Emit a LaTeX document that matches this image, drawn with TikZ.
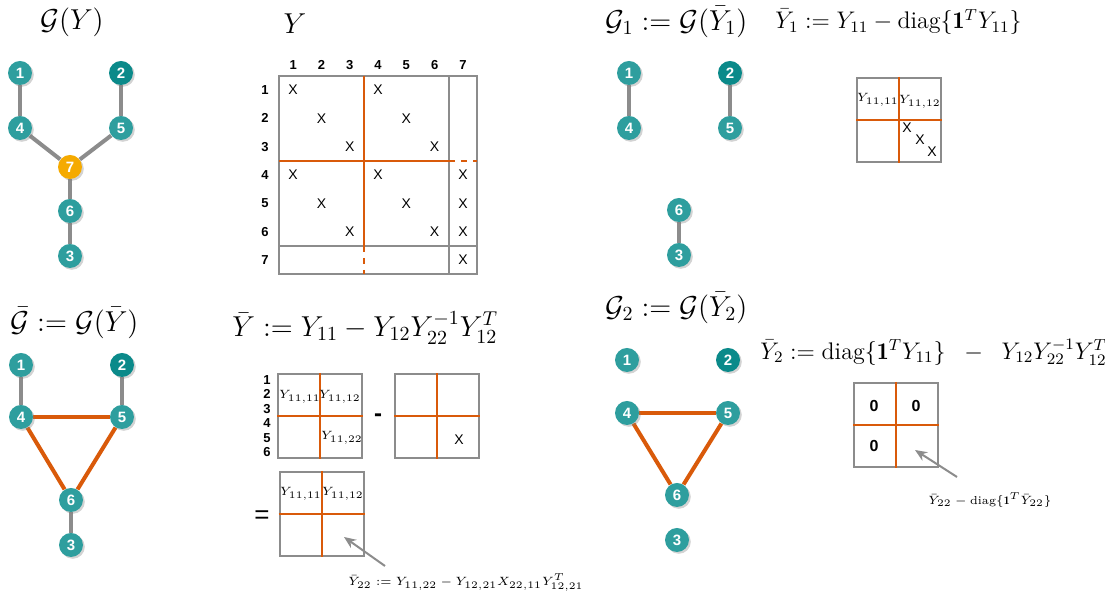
\documentclass[tikz,border=0pt]{standalone}
\usepackage{amsmath,amssymb}
\usepackage{fontspec}
\setsansfont{Liberation Sans}
\usepackage{tikz}
\usetikzlibrary{arrows.meta, shadows, backgrounds}
\definecolor{ballteal}{HTML}{2E9E9E}
\definecolor{balldark}{HTML}{0B8A8A}
\definecolor{ballgold}{HTML}{F5AA00}
\definecolor{cutorange}{HTML}{D95A0A}
\definecolor{gridgray}{HTML}{8C8C8C}
\newcommand{\Gcal}{\mathcal{G}}

\begin{document}
\begin{tikzpicture}[
  x=0.5pt, y=-0.5pt,
  ball/.style={circle, fill=ballteal, text=white, inner sep=0pt, minimum size=12pt,
               font=\sffamily\bfseries\fontsize{7.5}{8}\selectfont,
               drop shadow={shadow xshift=0.9pt, shadow yshift=-0.9pt, opacity=0.35}},
  darkball/.style={ball, fill=balldark},
  hubball/.style={ball, fill=ballgold},
  link/.style={draw=gridgray, line width=2pt},
  cutlink/.style={draw=cutorange, line width=2pt},
  title/.style={font=\fontsize{14.5}{17}\selectfont, inner sep=0pt},
  formula/.style={font=\fontsize{12}{14}\selectfont, inner sep=0pt},
  mbox/.style={draw=gridgray, line width=1pt, minimum width=42pt, minimum height=42pt,
               inner sep=0pt},
  gridline/.style={draw=gridgray, line width=1pt},
  cutline/.style={draw=cutorange, line width=1pt},
  entry/.style={font=\sffamily\fontsize{7}{8}\selectfont, inner sep=0pt},
  idx/.style={font=\sffamily\bfseries\fontsize{6.5}{7}\selectfont, inner sep=0pt},
  zero/.style={font=\sffamily\bfseries\fontsize{8}{8}\selectfont, inner sep=0pt},
  block/.style={font=\fontsize{6.3}{7}\selectfont, inner sep=0pt},
  note/.style={font=\fontsize{5.8}{7}\selectfont, inner sep=0pt},
  pointer/.style={-{Stealth[length=6pt, width=5pt]}, draw=gridgray, line width=1pt}
]
\useasboundingbox (0,0) rectangle (1105,597);

% ---------------- G(Y) ----------------
\node[title] (tG) at (72,22) {$\Gcal(Y)$};
\node[ball]     (y1) at (20,73)  {1};
\node[darkball] (y2) at (121,73) {2};
\node[ball]     (y4) at (20,128) {4};
\node[ball]     (y5) at (121,128) {5};
\node[hubball]  (y7) at (70,167) {7};
\node[ball]     (y6) at (70,211) {6};
\node[ball]     (y3) at (70,256) {3};

% ---------------- Y ----------------
\node[title] (tY) at (295,24) {$Y$};
\draw[gridline] (279,76) rectangle (477,274);
\draw[gridline] (449,76) -- (449,274);
\draw[gridline] (279,246) -- (477,246);
\draw[cutline] (364,76) -- (364,246);
\draw[cutline, dashed] (364,246) -- (364,274);
\draw[cutline] (279,161) -- (449,161);
\draw[cutline, dashed] (449,161) -- (477,161);
\foreach \k in {1,...,7} {
  \node[idx] (col\k) at ({279+28.3*(\k-0.5)},65) {\k};
  \node[idx] (row\k) at (265,{76+28.3*(\k-0.5)}) {\k};
}
\foreach \c/\r in {1/1,4/1,2/2,5/2,3/3,6/3,1/4,4/4,7/4,2/5,5/5,7/5,3/6,6/6,7/6,7/7}
  \node[entry] (x\c\r) at ({279+28.3*(\c-0.5)},{76+28.3*(\r-0.5)}) {X};

% ---------------- G1 ----------------
\node[title, anchor=west] (tG1) at (605,22) {$\Gcal_1 := \Gcal(\bar{Y}_1)$};
\node[formula, anchor=west] (fY1) at (775,22)
  {$\bar{Y}_1 := Y_{11} - \operatorname{diag}\{\mathbf{1}^T Y_{11}\}$};
\node[ball]     (p1) at (629,73)  {1};
\node[darkball] (p2) at (730,73)  {2};
\node[ball]     (p4) at (629,128) {4};
\node[ball]     (p5) at (730,128) {5};
\node[ball]     (p6) at (679,210) {6};
\node[ball]     (p3) at (679,255) {3};

\node[mbox] (box1) at (899,120) {};
\draw[cutline] (box1.north) -- (box1.south);
\draw[cutline] (box1.west) -- (box1.east);
\node[block] (b1a) at (878,100) {$Y_{11,11}$};
\node[block] (b1b) at (920,102) {$Y_{11,12}$};
\node[entry] (b1x) at (907,128) {X};
\node[entry] (b1y) at (920,140) {X};
\node[entry] (b1z) at (932,152) {X};

% ---------------- G bar ----------------
\node[title, anchor=west] (tGb) at (10,323) {$\bar{\Gcal} := \Gcal(\bar{Y})$};
\node[ball]     (b1) at (21,365)  {1};
\node[darkball] (b2) at (122,365) {2};
\node[ball]     (b4) at (21,417)  {4};
\node[ball]     (b5) at (122,417) {5};
\node[ball]     (b6) at (71,500)  {6};
\node[ball]     (b3) at (71,545)  {3};

% ---------------- Y bar ----------------
\node[title, anchor=west] (tYb) at (232,328)
  {$\bar{Y} := Y_{11} - Y_{12}Y_{22}^{-1}Y_{12}^T$};
\foreach \k in {1,...,6}
  \node[idx] (ra\k) at (267,{380+14.4*(\k-1)}) {\k};

\node[mbox] (boxA) at (320,416.5) {};
\draw[cutline] (boxA.north) -- (boxA.south);
\draw[cutline] (boxA.west) -- (boxA.east);
\node[block] (a11) at (300,397) {$Y_{11,11}$};
\node[block] (a12) at (340,397) {$Y_{11,12}$};
\node[block] (a22) at (342,438) {$Y_{11,22}$};

\node[font=\sffamily\bfseries\fontsize{12}{12}\selectfont, inner sep=0pt] (minus) at (378,418) {-};

\node[mbox] (boxB) at (437,416.5) {};
\draw[cutline] (boxB.north) -- (boxB.south);
\draw[cutline] (boxB.west) -- (boxB.east);
\node[entry] (bx) at (459,440) {X};

\node[font=\sffamily\fontsize{13}{13}\selectfont, inner sep=0pt] (equal) at (262,517) {=};

\node[mbox] (boxC) at (321.5,514) {};
\draw[cutline] (boxC.north) -- (boxC.south);
\draw[cutline] (boxC.west) -- (boxC.east);
\node[block] (c11) at (301,494) {$Y_{11,11}$};
\node[block] (c12) at (343,494) {$Y_{11,12}$};

\node[note] (noteC) at (466,583)
  {$\bar{Y}_{22} := Y_{11,22} - Y_{12,21}X_{22,11}Y_{12,21}^T$};
\coordinate (fromC) at (385,566);
\coordinate (tipC)  at (344,537);

% ---------------- G2 ----------------
\node[title, anchor=west] (tG2) at (605,308) {$\Gcal_2 := \Gcal(\bar{Y}_2)$};
\node[formula, anchor=west] (fY2) at (760,352)
  {$\bar{Y}_2 := \operatorname{diag}\{\mathbf{1}^T Y_{11}\}\;\;-\;\;Y_{12}Y_{22}^{-1}Y_{12}^T$};
\node[ball]     (q1) at (627,360) {1};
\node[darkball] (q2) at (728,360) {2};
\node[ball]     (q4) at (627,413) {4};
\node[ball]     (q5) at (728,413) {5};
\node[ball]     (q6) at (677,495) {6};
\node[ball]     (q3) at (677,540) {3};

\node[mbox] (box2) at (896,425) {};
\draw[cutline] (box2.north) -- (box2.south);
\draw[cutline] (box2.west) -- (box2.east);
\node[zero] (z11) at (874,406) {0};
\node[zero] (z12) at (916,406) {0};
\node[zero] (z21) at (874,446) {0};

\node[note] (note2) at (990,500)
  {$\bar{Y}_{22} - \operatorname{diag}\{\mathbf{1}^T\bar{Y}_{22}\}$};
\coordinate (from2) at (957,477);
\coordinate (tip2)  at (915,450);

% ---------------- Links ----------------
\begin{scope}[on background layer]
  \draw[link] (y1) -- (y4);
  \draw[link] (y2) -- (y5);
  \draw[link] (y4) -- (y7);
  \draw[link] (y5) -- (y7);
  \draw[link] (y7) -- (y6);
  \draw[link] (y6) -- (y3);

  \draw[link] (p1) -- (p4);
  \draw[link] (p2) -- (p5);
  \draw[link] (p6) -- (p3);

  \draw[link] (b1) -- (b4);
  \draw[link] (b2) -- (b5);
  \draw[link] (b6) -- (b3);
  \draw[cutlink] (b4) -- (b5);
  \draw[cutlink] (b4) -- (b6);
  \draw[cutlink] (b5) -- (b6);

  \draw[cutlink] (q4) -- (q5);
  \draw[cutlink] (q4) -- (q6);
  \draw[cutlink] (q5) -- (q6);
\end{scope}

% ---------------- Arrows ----------------
\draw[pointer] (fromC) -- (tipC);
\draw[pointer] (from2) -- (tip2);

\end{tikzpicture}
\end{document}
